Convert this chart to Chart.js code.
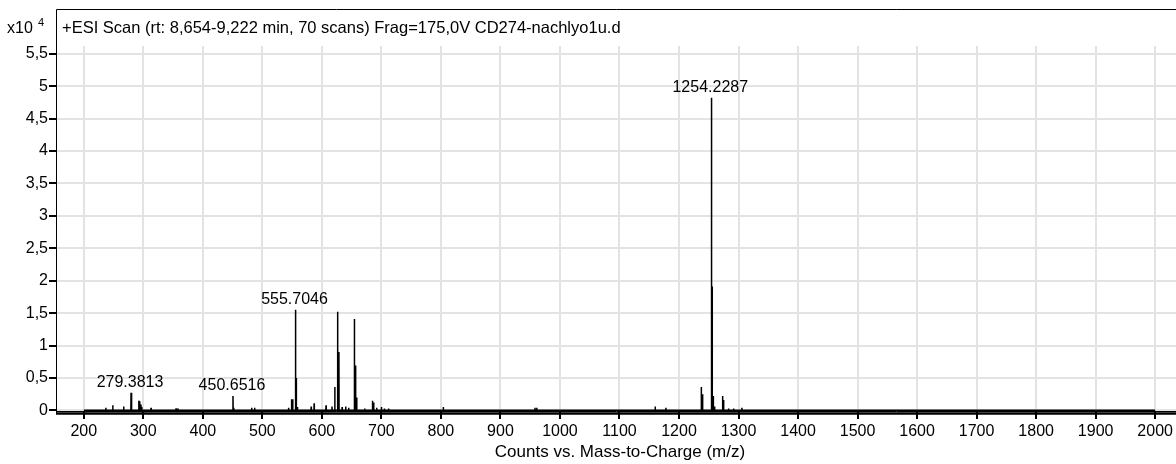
<!DOCTYPE html>
<html>
<head>
<meta charset="utf-8">
<script src="https://cdn.jsdelivr.net/npm/chart.js@4"></script>
<style>
  html, body { margin: 0; padding: 0; background: #fff; }
  #wrap { width: 1176px; height: 464px; position: relative; }
</style>
</head>
<body>
<div id="wrap"><canvas id="spectrum"></canvas></div>
<script>
// spectrum sticks, m/z and counts (x10^4)
const peakMz = [237, 248.7, 267, 279.3813, 280.5, 292.5, 294, 296, 297.5, 313, 355, 358,
  450.6516, 452, 482, 487, 544, 549, 551, 555.7046, 557, 559, 582, 587, 607, 617,
  621.7, 626.4, 628.6, 634, 640, 645, 654.6, 656.6, 658.5, 672, 685, 687, 692, 700, 705, 712,
  804, 958, 961, 1160, 1178,
  1237.4, 1239.6, 1254.2287, 1255.6, 1257.6, 1259.8, 1273.2, 1274.9, 1283.3, 1291.7, 1305.6];
const peakCounts = [0.04, 0.08, 0.06, 0.27, 0.05, 0.15, 0.14, 0.09, 0.05, 0.04, 0.03, 0.03,
  0.22, 0.04, 0.04, 0.04, 0.04, 0.17, 0.17, 1.55, 0.50, 0.05, 0.06, 0.11, 0.08, 0.06,
  0.36, 1.52, 0.90, 0.05, 0.06, 0.04, 1.41, 0.69, 0.20, 0.03, 0.15, 0.12, 0.04, 0.05, 0.03, 0.03,
  0.05, 0.04, 0.04, 0.06, 0.04,
  0.36, 0.25, 4.82, 1.91, 0.22, 0.06, 0.22, 0.16, 0.03, 0.03, 0.04];

// labelled peaks
const labelMz = [279.3813, 450.6516, 555.7046, 1254.2287];

const xTicks = [200, 300, 400, 500, 600, 700, 800, 900, 1000, 1100, 1200, 1300, 1400, 1500, 1600, 1700, 1800, 1900, 2000];
const yTicks = [0, 0.5, 1, 1.5, 2, 2.5, 3, 3.5, 4, 4.5, 5, 5.5];

const titleText = '+ESI Scan (rt: 8,654-9,222 min, 70 scans) Frag=175,0V CD274-nachlyo1u.d';
const xAxisTitle = 'Counts vs. Mass-to-Charge (m/z)';

const FONT = '"Liberation Sans", Arial, sans-serif';

// build stick profile: baseline with a narrow spike per peak
const points = [{ x: 200, y: 0 }];
peakMz.forEach((m, i) => {
  points.push({ x: m - 0.3, y: 0 }, { x: m, y: peakCounts[i] }, { x: m + 0.3, y: 0 });
});
points.push({ x: 2000, y: 0 });

const decorPlugin = {
  id: 'decor',
  afterDraw(chart) {
    const ctx = chart.ctx;
    const area = chart.chartArea;
    const xs = chart.scales.x;
    const ys = chart.scales.y;
    ctx.save();

    // frame above the plot and heavy bottom rule
    ctx.strokeStyle = '#000';
    ctx.lineWidth = 1;
    ctx.beginPath();
    ctx.moveTo(56.5, area.bottom + 3);
    ctx.lineTo(56.5, 9.5);
    ctx.lineTo(1176, 9.5);
    ctx.stroke();
    ctx.lineWidth = 2.5;
    ctx.beginPath();
    ctx.moveTo(56, area.bottom + 2.5);
    ctx.lineTo(1176, area.bottom + 2.5);
    ctx.stroke();

    ctx.fillStyle = '#000';
    ctx.textBaseline = 'middle';
    ctx.textAlign = 'left';
    ctx.font = '16.5px ' + FONT;
    ctx.fillText(titleText, 62, 28);
    ctx.font = '16px ' + FONT;
    ctx.fillText('x10', 7, 29);
    ctx.font = '11px ' + FONT;
    ctx.fillText('4', 38, 23);

    ctx.textAlign = 'center';
    ctx.font = '17px ' + FONT;
    ctx.fillText(xAxisTitle, 620, 452);

    // peak annotations
    ctx.font = '16px ' + FONT;
    labelMz.forEach(m => {
      const i = peakMz.indexOf(m);
      const px = xs.getPixelForValue(m);
      const py = ys.getPixelForValue(peakCounts[i]);
      ctx.fillText(m.toFixed(4), px - 1, py - 10);
    });
    ctx.restore();
  }
};

new Chart(document.getElementById('spectrum'), {
  type: 'line',
  data: {
    datasets: [{
      data: points,
      borderColor: '#000',
      borderWidth: 1.5,
      pointRadius: 0,
      tension: 0,
      fill: false
    }]
  },
  options: {
    responsive: true,
    maintainAspectRatio: false,
    animation: false,
    parsing: false,
    layout: { padding: { top: 46, left: 0, right: 0, bottom: 0 } },
    plugins: { legend: { display: false }, tooltip: { enabled: false } },
    scales: {
      x: {
        type: 'linear',
        min: 153.3,
        max: 2035,
        afterBuildTicks: s => { s.ticks = xTicks.map(v => ({ value: v })); },
        afterFit: s => { s.height = 53; },
        grid: { color: '#e3e3e3', tickColor: '#000', tickLength: 8, lineWidth: 2 },
        border: { color: '#000', width: 1 },
        ticks: {
          color: '#000',
          font: { size: 16, family: FONT },
          padding: 3,
          maxRotation: 0,
          autoSkip: false,
          callback: v => String(v)
        }
      },
      y: {
        min: -0.01,
        max: 5.62,
        afterBuildTicks: s => { s.ticks = yTicks.map(v => ({ value: v })); },
        afterFit: s => { s.width = 56; },
        grid: { color: '#e3e3e3', tickColor: '#000', tickLength: 7, lineWidth: 2 },
        border: { color: '#000', width: 1 },
        ticks: {
          color: '#000',
          font: { size: 16, family: FONT },
          padding: 1,
          callback: v => String(v).replace('.', ',')
        }
      }
    }
  },
  plugins: [decorPlugin]
});
</script>
</body>
</html>
